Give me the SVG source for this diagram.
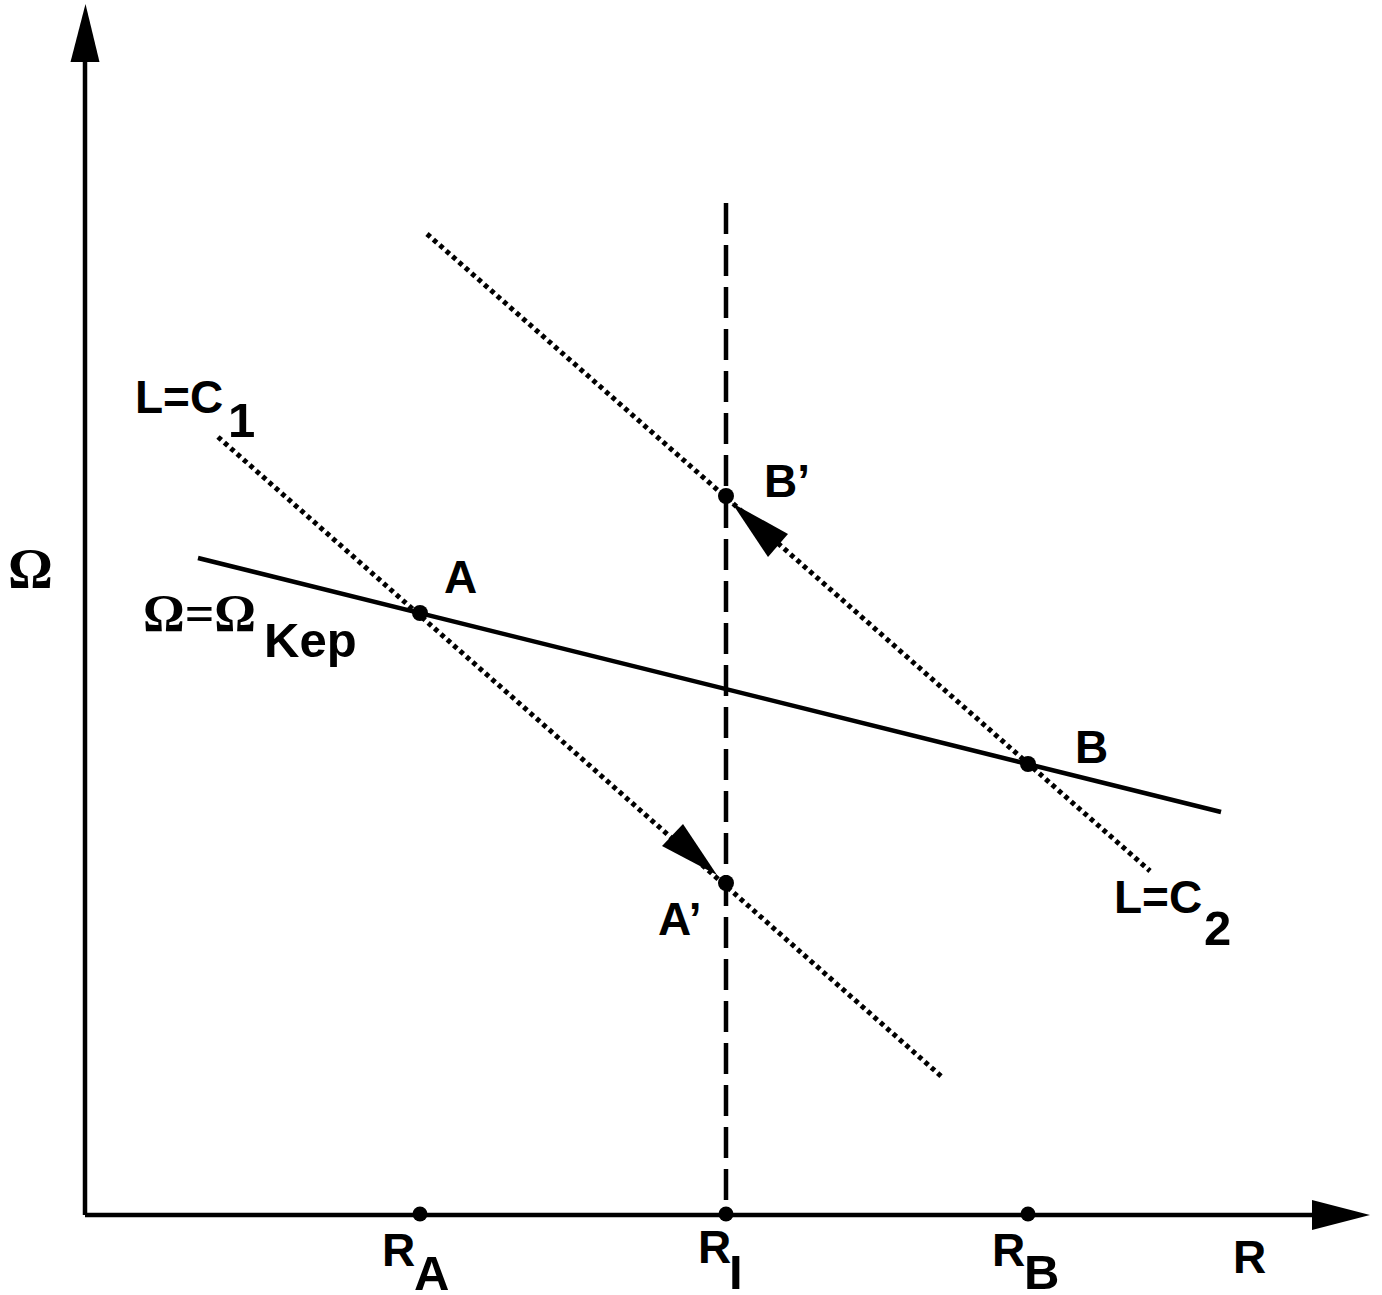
<svg xmlns="http://www.w3.org/2000/svg" width="1382" height="1295" viewBox="0 0 1382 1295">
<style>
.ax{stroke:#000;stroke-width:4.5;fill:none}
.solid{stroke:#000;stroke-width:4.5;fill:none}
.dot{stroke:#000;stroke-width:5;stroke-dasharray:4.5 4;fill:none}
.dash{stroke:#000;stroke-width:4.5;stroke-dasharray:31 11;fill:none}
.pt{fill:#000}
.lb{font-family:"Liberation Sans",Arial,sans-serif;font-weight:bold;font-size:46px;fill:#000}
.sub{font-family:"Liberation Sans",Arial,sans-serif;font-weight:bold;font-size:49px;fill:#000}
.gr{font-family:"Liberation Serif","Times New Roman",serif;font-weight:bold;font-size:52px;fill:#000}
</style>
<g id="axes">
<line class="ax" x1="85" y1="1215" x2="85" y2="60"/>
<polygon class="pt" points="85.5,4 70.5,62 99.5,62"/>
<line class="ax" x1="85" y1="1215" x2="1315" y2="1215"/>
<polygon class="pt" points="1370,1215 1312,1200 1312,1230"/>
<text class="gr" x="8" y="588" style="font-size:56px">Ω</text>
<text class="lb" x="1233" y="1273">R</text>
</g>
<g id="connectors">
<line class="solid" x1="198" y1="558" x2="1221" y2="812"/>
<line class="dot" x1="218" y1="437" x2="942" y2="1077"/>
<line class="dot" x1="427" y1="234" x2="1150" y2="871"/>
<line class="dash" x1="726" y1="203" x2="726" y2="1215"/>
<polygon class="pt" points="717,875 662,846 683,824"/>
<polygon class="pt" points="732,503 768,557 788,534"/>
</g>
<g id="label-C1">
<text class="lb" x="135" y="413">L=C</text>
<text class="sub" x="228" y="437">1</text>
</g>
<g id="label-C2">
<text class="lb" x="1114" y="913">L=C</text>
<text class="sub" x="1204" y="945">2</text>
</g>
<g id="label-Kep">
<text class="gr" x="143" y="631">Ω=Ω</text>
<text class="sub" x="264" y="657">Kep</text>
</g>
<g id="node-A">
<circle class="pt" cx="420" cy="613" r="8"/>
<text class="lb" x="444" y="593">A</text>
</g>
<g id="node-B">
<circle class="pt" cx="1028" cy="764" r="8"/>
<text class="lb" x="1075" y="763">B</text>
</g>
<g id="node-Ap">
<circle class="pt" cx="726" cy="883" r="8"/>
<text class="lb" x="658" y="935">A’</text>
</g>
<g id="node-Bp">
<circle class="pt" cx="726" cy="496" r="8"/>
<text class="lb" x="764" y="497">B’</text>
</g>
<g id="node-RA">
<circle class="pt" cx="420" cy="1214" r="7.5"/>
<text class="lb" x="382" y="1266">R</text>
<text class="sub" x="414" y="1290">A</text>
</g>
<g id="node-RI">
<circle class="pt" cx="726" cy="1214" r="7.5"/>
<text class="lb" x="698" y="1263">R</text>
<text class="sub" x="729" y="1289">I</text>
</g>
<g id="node-RB">
<circle class="pt" cx="1028" cy="1214" r="7.5"/>
<text class="lb" x="992" y="1266">R</text>
<text class="sub" x="1024" y="1289">B</text>
</g>
</svg>
